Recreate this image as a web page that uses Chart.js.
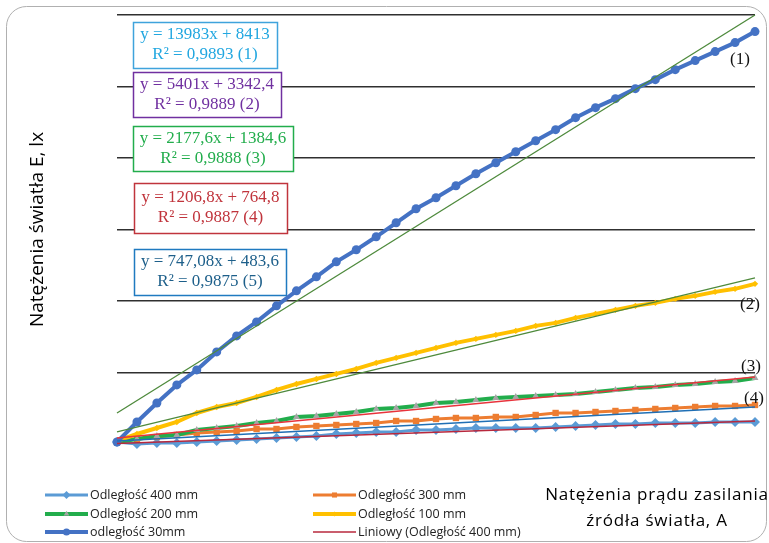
<!DOCTYPE html>
<html>
<head>
<meta charset="utf-8">
<script src="https://cdn.jsdelivr.net/npm/chart.js@4.4.1/dist/chart.umd.min.js"></script>
<style>
  html, body { margin: 0; padding: 0; background: #fff; }
  canvas { display: block; }
</style>
</head>
<body>
<canvas id="wykres" width="769" height="543"></canvas>
<script>
// kolejne pomiary (numer kroku prądu zasilania)
const pomiary = [0, 1, 2, 3, 4, 5, 6, 7, 8, 9, 10, 11, 12, 13, 14, 15, 16,
                 17, 18, 19, 20, 21, 22, 23, 24, 25, 26, 27, 28, 29, 30, 31, 32];

// natężenie oświetlenia, lx
const odl400 = [280, 0, 140, 140, 280, 420, 560, 700, 840, 980, 1120, 1400, 1540, 1680, 1680, 1960, 1960,
                2100, 2240, 2240, 2240, 2240, 2380, 2520, 2660, 2800, 2800, 2940, 2940, 2940, 3080, 3080, 3080];
const odl300 = [280, 700, 980, 1260, 1540, 1680, 1820, 2100, 2100, 2380, 2520, 2660, 2800, 2940, 3220, 3220, 3500,
                3640, 3640, 3780, 3780, 4060, 4340, 4340, 4480, 4620, 4760, 4900, 5040, 5180, 5320, 5320, 5460];
const odl200 = [280, 700, 1120, 1260, 1960, 2240, 2520, 2940, 3220, 3780, 3920, 4200, 4480, 4900, 5040, 5320, 5740,
                5880, 6160, 6440, 6580, 6720, 6860, 7000, 7280, 7560, 7840, 7980, 8260, 8400, 8680, 8820, 9240];
const odl100 = [420, 1400, 2240, 3080, 4340, 5180, 5740, 6580, 7560, 8400, 9100, 9800, 10500, 11340, 12040, 12740, 13440,
                14140, 14700, 15260, 15820, 16520, 16940, 17640, 18200, 18760, 19320, 19740, 20300, 20720, 21280, 21700, 22400];
const odl30 = [280, 3080, 5740, 8260, 10360, 12880, 15120, 17080, 19320, 21420, 23380, 25480, 27160, 28980, 30940, 32900, 34440,
               36120, 37800, 39340, 40880, 42420, 43960, 45640, 47040, 48300, 49700, 50960, 52360, 53620, 54880, 56140, 57680];

// linie trendu: wartość na początku i na końcu zakresu
const trend30 = [4340, 60000];
const trend100 = [1680, 23240];
const trend200 = [840, 9380];
const trend300 = [420, 5180];
const trend400 = [70, 3220];

const rownania = [
  ['y = 13983x + 8413', 'R² = 0,9893 (1)'],
  ['y = 5401x + 3342,4', 'R² = 0,9889 (2)'],
  ['y = 2177,6x + 1384,6', 'R² = 0,9888 (3)'],
  ['y = 1206,8x + 764,8', 'R² = 0,9887 (4)'],
  ['y = 747,08x + 483,6', 'R² = 0,9875 (5)']
];

const etykiety = pomiary.map(String);

function linia(trend) {
  return [{ x: etykiety[0], y: trend[0] }, { x: etykiety[etykiety.length - 1], y: trend[1] }];
}

const datasets = [
  { label: 'Odległość 400 mm', data: odl400, borderColor: '#5b9bd5', backgroundColor: '#5b9bd5',
    borderWidth: 3, pointStyle: 'rectRot', pointRadius: 5, order: 5 },
  { label: 'Odległość 300 mm', data: odl300, borderColor: '#ed7d31', backgroundColor: '#ed7d31',
    borderWidth: 3, pointStyle: 'rect', pointRadius: 4.5, order: 4 },
  { label: 'Odległość 200 mm', data: odl200, borderColor: '#22ad4c', backgroundColor: '#a5a5a5',
    borderWidth: 4, pointStyle: 'triangle', pointRadius: 4, order: 3 },
  { label: 'Odległość 100 mm', data: odl100, borderColor: '#ffc000', backgroundColor: '#ffc000',
    borderWidth: 4, pointStyle: 'rectRot', pointRadius: 3.2, order: 2 },
  { label: 'odległość 30mm', data: odl30, borderColor: '#4472c4', backgroundColor: '#4472c4',
    borderWidth: 4, pointStyle: 'circle', pointRadius: 4.5, order: 1 },
  { label: 'Liniowy (Odległość 400 mm)', data: linia(trend400), borderColor: '#b8283d',
    borderWidth: 1.5, pointRadius: 0, order: 0, trend: true },
  { label: 'trend 300', data: linia(trend300), borderColor: '#1f6fb5', borderWidth: 1.5, pointRadius: 0, order: 0, trend: true, ukryj: true },
  { label: 'trend 200', data: linia(trend200), borderColor: '#e8333c', borderWidth: 1.5, pointRadius: 0, order: 0, trend: true, ukryj: true },
  { label: 'trend 100', data: linia(trend100), borderColor: '#4e8a3c', borderWidth: 1.3, pointRadius: 0, order: 0, trend: true, ukryj: true },
  { label: 'trend 30', data: linia(trend30), borderColor: '#4e8a3c', borderWidth: 1.3, pointRadius: 0, order: 0, trend: true, ukryj: true }
];
datasets.forEach(ds => {
  ds.pointBorderWidth = 0;
  ds.pointHoverRadius = 0;
  ds.tension = 0;
  ds.clip = false;
  ds.fill = false;
});

// ramka wykresu, ramki z równaniami
const tloPlugin = {
  id: 'tlo',
  beforeDraw(chart) {
    const ctx = chart.ctx;
    ctx.save();
    ctx.fillStyle = '#fff';
    ctx.fillRect(0, 0, chart.width, chart.height);
    ctx.strokeStyle = '#b0b0b0';
    ctx.lineWidth = 1;
    ctx.beginPath();
    ctx.roundRect(6.5, 6.5, 760, 535, 20);
    ctx.stroke();
    ctx.restore();
  },
  beforeDatasetsDraw(chart) {
    const ctx = chart.ctx;
    const ramki = [
      { x: 133, y: 22, w: 144, h: 46, kolor: '#3fa3dc', tekst: '#22a7e0' },
      { x: 133, y: 72, w: 148, h: 45, kolor: '#7030a0', tekst: '#7030a0' },
      { x: 133, y: 126, w: 160, h: 45, kolor: '#22ad4c', tekst: '#22ad4c' },
      { x: 134, y: 183, w: 153, h: 50, kolor: '#c0343c', tekst: '#c0343c' },
      { x: 134, y: 249, w: 152, h: 46, kolor: '#1f7ac0', tekst: '#1d5f8a' }
    ];
    ctx.save();
    ctx.font = '17px "Liberation Serif", serif';
    ctx.textAlign = 'center';
    ctx.textBaseline = 'middle';
    ramki.forEach((r, i) => {
      ctx.fillStyle = '#fff';
      ctx.fillRect(r.x, r.y, r.w, r.h);
      ctx.strokeStyle = r.kolor;
      ctx.lineWidth = 1.5;
      ctx.strokeRect(r.x + 0.5, r.y + 0.5, r.w, r.h);
      ctx.fillStyle = r.tekst;
      const cx = r.x + r.w / 2;
      const srodek = r.y + r.h / 2;
      ctx.fillText(rownania[i][0], cx, srodek - 10);
      ctx.fillText(rownania[i][1], cx, srodek + 10);
    });
    ctx.restore();
  },
  afterDraw(chart) {
    const ctx = chart.ctx;
    ctx.save();
    // numery krzywych
    ctx.font = '17px "Liberation Serif", serif';
    ctx.fillStyle = '#111';
    ctx.textAlign = 'center';
    ctx.textBaseline = 'middle';
    ctx.fillText('(1)', 740, 60);
    ctx.fillText('(2)', 750, 305);
    ctx.fillText('(3)', 751, 367);
    ctx.fillText('(4)', 754, 399);

    // tytuł osi X
    ctx.font = '17px "Open Sans", sans-serif';
    ctx.fillStyle = '#000';
    ctx.letterSpacing = '0.8px';
    ctx.fillText('Natężenia prądu zasilania', 657, 495);
    ctx.fillText('źródła światła, A', 657, 521);
    ctx.letterSpacing = '0px';

    // legenda
    const pozycje = [[45, 495], [313, 495], [45, 514], [313, 514], [45, 532], [313, 532]];
    ctx.font = '12.5px "Open Sans", sans-serif';
    ctx.textAlign = 'left';
    chart.data.datasets.filter(ds => !ds.ukryj).forEach((ds, i) => {
      const [x, y] = pozycje[i];
      ctx.strokeStyle = ds.borderColor;
      ctx.lineWidth = ds.trend ? 1.5 : ds.borderWidth;
      ctx.beginPath();
      ctx.moveTo(x, y);
      ctx.lineTo(x + 43, y);
      ctx.stroke();
      if (!ds.trend) {
        ctx.fillStyle = ds.backgroundColor;
        ctx.strokeStyle = ds.backgroundColor;
        Chart.helpers.drawPoint(ctx, {
          pointStyle: ds.pointStyle, radius: ds.pointRadius * 0.8, rotation: 0, borderWidth: 0
        }, x + 21.5, y);
      }
      ctx.fillStyle = '#222';
      ctx.fillText(ds.label, x + 45, y);
    });
    ctx.restore();
  }
};

new Chart(document.getElementById('wykres'), {
  type: 'line',
  data: { labels: etykiety, datasets: datasets },
  options: {
    responsive: false,
    animation: false,
    events: [],
    layout: { padding: { left: 22, right: 14, top: 15, bottom: 99 } },
    plugins: {
      legend: { display: false },
      tooltip: { enabled: false }
    },
    scales: {
      x: { type: 'category', display: false, offset: false },
      y: {
        min: 0,
        max: 60000,
        ticks: { display: false, stepSize: 10000 },
        border: { display: false },
        grid: {
          drawTicks: false,
          lineWidth: 1.4,
          color: c => (c.tick && c.tick.value === 0) ? 'rgba(0,0,0,0)' : '#303030'
        },
        title: {
          display: true,
          text: 'Natężenia światła E, lx',
          color: '#000',
          font: { family: 'Open Sans', size: 19 },
          padding: { top: 4, bottom: 0 }
        },
        afterFit: scale => { scale.width = 95; }
      }
    }
  },
  plugins: [tloPlugin]
});
</script>
</body>
</html>
